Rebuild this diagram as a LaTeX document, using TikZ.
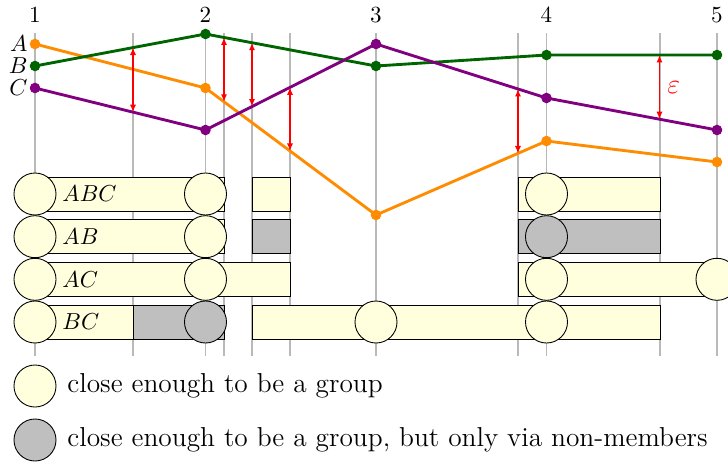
\RequirePackage{fix-cm}
\documentclass[tikz,border=0pt]{standalone}
\usetikzlibrary{arrows.meta,calc}
\definecolor{lineA}{RGB}{255,140,0}
\definecolor{lineB}{RGB}{0,100,0}
\definecolor{lineC}{RGB}{128,0,128}
\definecolor{grp}{RGB}{255,255,222}
\definecolor{viagrp}{RGB}{191,191,191}
\begin{document}
\begin{tikzpicture}[x=0.4545pt,y=-0.4545pt,
  every node/.style={font=\fontsize{10.5}{12.6}\selectfont},
  timeline/.style={draw=gray!55, line width=0.5pt},
  traj/.style={line width=1.3pt},
  dot/.style={circle, fill, inner sep=0pt, minimum size=4.8pt},
  epsarrow/.style={red, line width=0.6pt, {Latex[length=3.4pt,width=2.8pt]}-{Latex[length=3.4pt,width=2.8pt]}},
  barbox/.style={draw=black, line width=0.4pt},
  grpbar/.style={barbox, fill=grp},
  viabar/.style={barbox, fill=viagrp},
  grpc/.style={circle, draw=black, line width=0.4pt, minimum size=19.1pt, inner sep=0pt, fill=grp},
  viac/.style={grpc, fill=viagrp},
  lbl/.style={inner sep=0pt},
  legtext/.style={inner sep=0pt, font=\fontsize{12.45}{15}\selectfont}
]
\useasboundingbox (0,0) rectangle (728,464);

% time labels
\node (n1) at (35,15) {1};
\node (n2) at (205.5,15) {2};
\node (n3) at (376,15) {3};
\node (n4) at (546.5,15) {4};
\node (n5) at (717,15) {5};

% vertical time lines
\foreach \x in {35,133,205.5,224,252,290,376,518,546.5,660,717}
  \draw[timeline] (\x,33) -- (\x,356);

% trajectory points
\foreach \n/\x/\a/\b/\c in {1/35/44/66/88, 2/205.5/88/34/130, 3/376/215/66/44, 4/546.5/141/55/98, 5/717/162/55/130}{
  \coordinate (A\n) at (\x,\a);
  \coordinate (B\n) at (\x,\b);
  \coordinate (C\n) at (\x,\c);
}
\draw[traj, lineA] (A1) -- (A2) -- (A3) -- (A4) -- (A5);
\draw[traj, lineB] (B1) -- (B2) -- (B3) -- (B4) -- (B5);
\draw[traj, lineC] (C1) -- (C2) -- (C3) -- (C4) -- (C5);
\foreach \n in {1,...,5}{
  \node[dot, lineA] (dA\n) at (A\n) {};
  \node[dot, lineB] (dB\n) at (B\n) {};
  \node[dot, lineC] (dC\n) at (C\n) {};
}

% trajectory names
\node[lbl, anchor=east] (labA) at (28,44) {$A$};
\node[lbl, anchor=east] (labB) at (28,66) {$B$};
\node[lbl, anchor=east] (labC) at (28,88) {$C$};

% epsilon arrows
\coordinate (e1t) at ($(B1)!0.5748!(B2)$);
\coordinate (e1b) at ($(C1)!0.5748!(C2)$);
\coordinate (e2t) at ($(B2)!0.1085!(B3)$);
\coordinate (e2b) at ($(A2)!0.1085!(A3)$);
\coordinate (e3t) at ($(B2)!0.2727!(B3)$);
\coordinate (e3b) at ($(C2)!0.2727!(C3)$);
\coordinate (e4t) at ($(C2)!0.4956!(C3)$);
\coordinate (e4b) at ($(A2)!0.4956!(A3)$);
\coordinate (e5t) at ($(C3)!0.8328!(C4)$);
\coordinate (e5b) at ($(A3)!0.8328!(A4)$);
\coordinate (e6t) at ($(B4)!0.6627!(B5)$);
\coordinate (e6b) at ($(C4)!0.6627!(C5)$);
\foreach \i in {1,...,6}
  \draw[epsarrow] (e\i t) -- (e\i b);
\node[red, lbl, anchor=west, font=\fontsize{12.6}{15}\selectfont] (eps) at (667,88) {$\varepsilon$};

% group bars
\def\rABC{194}\def\rAB{236.7}\def\rAC{279.3}\def\rBC{322}
\draw[grpbar] (35,177) rectangle (224,211);
\draw[grpbar] (252,177) rectangle (290,211);
\draw[grpbar] (518,177) rectangle (660,211);

\draw[grpbar] (35,219.7) rectangle (224,253.7);
\draw[viabar] (252,219.7) rectangle (290,253.7);
\draw[viabar] (518,219.7) rectangle (660,253.7);

\draw[grpbar] (35,262.3) rectangle (290,296.3);
\draw[grpbar] (518,262.3) rectangle (717,296.3);

\draw[grpbar] (35,305) rectangle (133,339);
\draw[viabar] (133,305) rectangle (224,339);
\draw[grpbar] (252,305) rectangle (660,339);

% group circles
\node[grpc] (abc1) at (35,\rABC) {};
\node[grpc] (abc2) at (205.5,\rABC) {};
\node[grpc] (abc4) at (546.5,\rABC) {};
\node[grpc] (ab1) at (35,\rAB) {};
\node[grpc] (ab2) at (205.5,\rAB) {};
\node[viac] (ab4) at (546.5,\rAB) {};
\node[grpc] (ac1) at (35,\rAC) {};
\node[grpc] (ac2) at (205.5,\rAC) {};
\node[grpc] (ac4) at (546.5,\rAC) {};
\node[grpc] (ac5) at (717,\rAC) {};
\node[grpc] (bc1) at (35,\rBC) {};
\node[viac] (bc2) at (205.5,\rBC) {};
\node[grpc] (bc3) at (376,\rBC) {};
\node[grpc] (bc4) at (546.5,\rBC) {};

% row labels
\node[lbl, anchor=west] (rowABC) at (62,\rABC) {$ABC$};
\node[lbl, anchor=west] (rowAB) at (62,\rAB) {$AB$};
\node[lbl, anchor=west] (rowAC) at (62,\rAC) {$AC$};
\node[lbl, anchor=west] (rowBC) at (62,\rBC) {$BC$};

% legend
\node[grpc] (leg1) at (35,386) {};
\node[viac] (leg2) at (35,440) {};
\node[legtext, anchor=west] (legt1) at (67,386) {close enough to be a group};
\node[legtext, anchor=west] (legt2) at (67,440) {close enough to be a group, but only via non-members};
\end{tikzpicture}
\end{document}
